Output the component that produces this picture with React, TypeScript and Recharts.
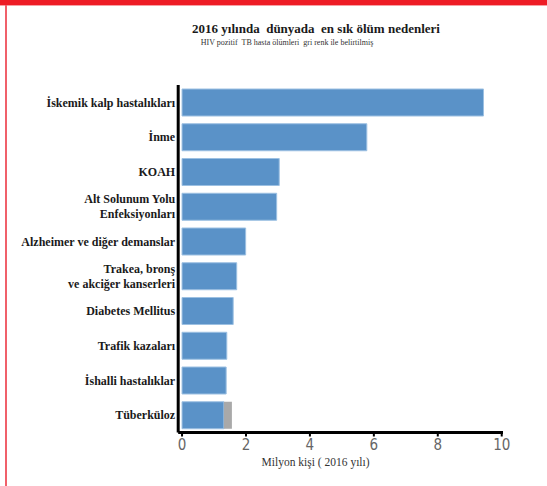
import { BarChart, Bar, XAxis, YAxis } from 'recharts';

const CATEGORIES = [
  'İskemik kalp hastalıkları',
  'İnme',
  'KOAH',
  'Alt Solunum Yolu\nEnfeksiyonları',
  'Alzheimer ve diğer demanslar',
  'Trakea, bronş\nve akciğer kanserleri',
  'Diabetes Mellitus',
  'Trafik kazaları',
  'İshalli hastalıklar',
  'Tüberküloz',
];

// million deaths, 2016
const DEATHS = [9.43, 5.78, 3.04, 2.96, 1.99, 1.71, 1.6, 1.4, 1.38, 1.31];
// HIV positive TB deaths (grey part)
const HIV_TB = [0, 0, 0, 0, 0, 0, 0, 0, 0, 0.25];

const X_TICKS = [0, 2, 4, 6, 8, 10];

const data = CATEGORIES.map((name, i) => ({ name, deaths: DEATHS[i], hiv: HIV_TB[i] }));

const SERIF = "'Liberation Serif', 'Times New Roman', serif";
const NARROW = "'Liberation Sans Narrow', 'DejaVu Sans Condensed', Roboto, sans-serif";

const CategoryTick = ({ x, y, payload }: any) => {
  const lines = String(payload.value).split('\n');
  const lh = 15;
  const start = y - ((lines.length - 1) * lh) / 2;
  return (
    <text x={x} y={start} textAnchor="end" fontFamily={SERIF} fontWeight="bold" fontSize={12} fill="#1a1a1a">
      {lines.map((l, i) => (
        <tspan key={i} x={x} y={start + i * lh} dy="0.35em">
          {l}
        </tspan>
      ))}
    </text>
  );
};

export default function App() {
  return (
    <div
      style={{
        position: 'absolute',
        left: 0,
        top: 0,
        width: 547,
        height: 486,
        background: '#fff',
        overflow: 'hidden',
      }}
    >
      {/* frame */}
      <div style={{ position: 'absolute', left: 0, top: 0, width: 547, height: 5, background: '#ee1c25' }} />
      <div style={{ position: 'absolute', left: 0, top: 5, width: 547, height: 1, background: '#f7a0a4' }} />
      <div style={{ position: 'absolute', left: 5, top: 5, width: 2, height: 481, background: '#f0606a' }} />

      {/* titles */}
      <div
        style={{
          position: 'absolute',
          left: 166,
          top: 21,
          width: 300,
          textAlign: 'center',
          fontFamily: SERIF,
          fontWeight: 'bold',
          fontSize: 13,
          color: '#1a1a1a',
          whiteSpace: 'pre',
        }}
      >
        {'2016 yılında  dünyada  en sık ölüm nedenleri'}
      </div>
      <div
        style={{
          position: 'absolute',
          left: 137,
          top: 38,
          width: 300,
          textAlign: 'center',
          fontFamily: SERIF,
          fontSize: 8,
          color: '#333',
          whiteSpace: 'pre',
        }}
      >
        {'HIV pozitif  TB hasta ölümleri  gri renk ile belirtilmiş'}
      </div>

      <div style={{ position: 'absolute', left: 0, top: 0 }}>
        <BarChart
          width={547}
          height={486}
          data={data}
          layout="vertical"
          margin={{ top: 85, right: 44, bottom: 0, left: 0 }}
          barSize={27}
        >
          <XAxis
            type="number"
            domain={[-0.12, 10.04]}
            ticks={X_TICKS}
            allowDataOverflow
            height={53.5}
            axisLine={{ stroke: '#000', strokeWidth: 3 }}
            tickLine={{ stroke: '#000', strokeWidth: 2 }}
            tickSize={4}
            tickMargin={3}
            tick={{ fontFamily: NARROW, fontSize: 15, fill: '#666' }}
            label={{
              value: 'Milyon kişi ( 2016 yılı)',
              position: 'insideBottom',
              offset: 20,
              dx: -25,
              fontFamily: SERIF,
              fontSize: 11.5,
              fill: '#333',
            }}
          />
          <YAxis
            type="category"
            dataKey="name"
            width={178.2}
            axisLine={{ stroke: '#000', strokeWidth: 3 }}
            tickLine={false}
            tickSize={0}
            tickMargin={3}
            interval={0}
            tick={<CategoryTick />}
          />
          <Bar dataKey="deaths" stackId="a" fill="#5a92c8" stroke="#9cc0e2" strokeWidth={1} isAnimationActive={false} />
          <Bar dataKey="hiv" stackId="a" fill="#a9a9a9" isAnimationActive={false} />
        </BarChart>
      </div>
    </div>
  );
}
